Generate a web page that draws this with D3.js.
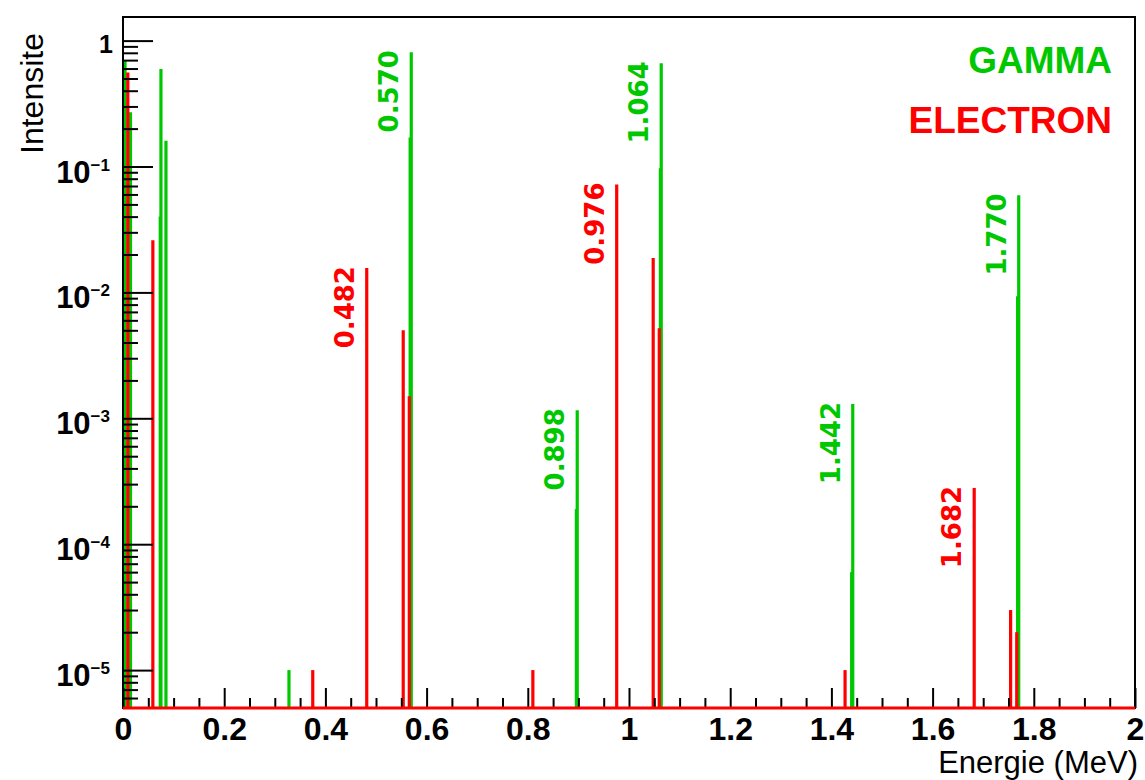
<!DOCTYPE html>
<html>
<head>
<meta charset="utf-8">
<script src="https://cdn.jsdelivr.net/npm/d3@7"></script>
<style>
  body { margin: 0; background: #fff; }
  svg { display: block; }
  .tick-label { font-family: 'Liberation Sans', Arial, sans-serif; font-weight: bold; }
  .title { font-family: 'Liberation Sans', Arial, sans-serif; }
  .peak-label { font-family: 'DejaVu Sans', sans-serif; font-weight: bold; }
</style>
</head>
<body>
<div id="chart"></div>
<script>
// Gamma lines (energy in MeV, intensity)
const gammaEnergy = [0.004, 0.0148, 0.0736, 0.0750, 0.0849, 0.328, 0.5675, 0.5697, 0.896, 0.8977, 1.0620, 1.0637, 1.440, 1.4422, 1.768, 1.7702];
const gammaIntensity = [0.70, 0.27, 0.04, 0.595, 0.16, 1.0e-5, 0.17, 0.81, 1.9e-4, 1.16e-3, 0.097, 0.66, 6e-5, 1.3e-3, 9.3e-3, 0.059];

// Conversion / Auger electrons
const electronEnergy = [0.0095, 0.059, 0.375, 0.4817, 0.5538, 0.5658, 0.810, 0.9757, 1.0478, 1.0598, 1.427, 1.6822, 1.7542, 1.7663];
const electronIntensity = [0.557, 0.026, 1.0e-5, 0.0156, 5.0e-3, 1.5e-3, 1.0e-5, 0.072, 0.0188, 5.2e-3, 1.0e-5, 2.8e-4, 3.0e-5, 2.0e-5];

// annotated peaks
const gammaLabels = ['0.570', '0.898', '1.064', '1.442', '1.770'];
const electronLabels = ['0.482', '0.976', '1.682'];

const xMajorTicks = [0, 0.2, 0.4, 0.6, 0.8, 1, 1.2, 1.4, 1.6, 1.8, 2];
const yDecades = [-5, -4, -3, -2, -1, 0];

const legendNames = ['GAMMA', 'ELECTRON'];

const green = '#00c800';
const red = '#ff0000';

const width = 1145;
const height = 780;
const frame = {left: 123, right: 1135, top: 17, bottom: 708};
const yMin = 5e-6, yMax = 1.54;

const svg = d3.select('#chart').append('svg')
  .attr('width', width)
  .attr('height', height);

const x = d3.scaleLinear().domain([0, 2]).range([frame.left, frame.right]);
const y = d3.scaleLog().domain([yMin, yMax]).range([frame.bottom, frame.top]);

function drawSpikes (energies, values, color) {
  svg.append('g')
    .selectAll('line')
    .data(energies.map((e, i) => ({e: e, v: values[i]})))
    .enter()
    .append('line')
    .attr('x1', d => x(d.e))
    .attr('x2', d => x(d.e))
    .attr('y1', y(yMin))
    .attr('y2', d => y(d.v))
    .attr('stroke', color)
    .attr('stroke-width', 3.2);
}

drawSpikes(gammaEnergy, gammaIntensity, green);
drawSpikes(electronEnergy, electronIntensity, red);

// frame
svg.append('rect')
  .attr('x', frame.left).attr('y', frame.top)
  .attr('width', frame.right - frame.left).attr('height', frame.bottom - frame.top)
  .attr('fill', 'none').attr('stroke', '#000').attr('stroke-width', 2);

// x axis: major + minor ticks pointing inside
let xMinor = d3.range(0, 2.0001, 0.05).filter(v => Math.abs(v * 5 - Math.round(v * 5)) > 1e-6);
let xAxisMajor = d3.axisBottom(x).tickValues(xMajorTicks).tickSize(-20).tickPadding(9)
  .tickFormat(d => String(+d.toFixed(1)));
let xAxisMinor = d3.axisBottom(x).tickValues(xMinor).tickSize(-10).tickFormat('');

let gx = svg.append('g').attr('transform', 'translate(0,' + frame.bottom + ')').call(xAxisMajor);
svg.append('g').attr('transform', 'translate(0,' + frame.bottom + ')').call(xAxisMinor)
  .select('.domain').remove();
gx.select('.domain').remove();
gx.selectAll('text').attr('class', 'tick-label').attr('font-size', 32).attr('fill', '#000');

// y axis: decades + 2..9 minors
let yMajor = yDecades.map(k => Math.pow(10, k));
let yMinor = [];
d3.range(-6, 1).forEach(k => {
  d3.range(2, 10).forEach(m => {
    let v = m * Math.pow(10, k);
    if (v >= yMin && v <= yMax) yMinor.push(v);
  });
});
let gy = svg.append('g').attr('transform', 'translate(' + frame.left + ',0)')
  .call(d3.axisLeft(y).tickValues(yMajor).tickSize(-30).tickFormat(''));
let gy2 = svg.append('g').attr('transform', 'translate(' + frame.left + ',0)')
  .call(d3.axisLeft(y).tickValues(yMinor).tickSize(-15).tickFormat(''));
gy.select('.domain').remove();
gy2.select('.domain').remove();
svg.selectAll('.tick line').attr('stroke-width', 2);

// y tick labels, 10^k with superscript
yDecades.forEach(k => {
  let yy = y(Math.pow(10, k));
  if (k === 0) {
    svg.append('text').attr('class', 'tick-label')
      .attr('x', 113).attr('y', yy + 12)
      .attr('text-anchor', 'end').attr('font-size', 25)
      .text('1');
    return;
  }
  let t = svg.append('text').attr('class', 'tick-label')
    .attr('x', 110).attr('y', yy + 16)
    .attr('text-anchor', 'end');
  t.append('tspan').attr('font-size', 31).text('10');
  t.append('tspan').attr('font-size', 17).attr('dy', -12).text('\u2212' + (-k));
});

// red histogram baseline over the bottom axis
svg.append('line')
  .attr('x1', x(0)).attr('x2', x(2))
  .attr('y1', y(yMin)).attr('y2', y(yMin))
  .attr('stroke', red).attr('stroke-width', 3);

// peak labels
function drawLabels (labels, energies, values, color) {
  labels.forEach(lab => {
    let e = +lab;
    let i = d3.minIndex(energies, d => Math.abs(d - e));
    let px = x(energies[i]) - 13;
    let py = y(values[i]) - 2;
    svg.append('text')
      .attr('class', 'peak-label')
      .attr('transform', 'translate(' + px + ',' + py + ') rotate(-90)')
      .attr('text-anchor', 'end')
      .attr('font-size', 26)
      .attr('fill', color)
      .text(lab);
  });
}
drawLabels(gammaLabels, gammaEnergy, gammaIntensity, green);
drawLabels(electronLabels, electronEnergy, electronIntensity, red);

// axis titles
svg.append('text').attr('class', 'title')
  .attr('transform', 'translate(43,33) rotate(-90)')
  .attr('text-anchor', 'end').attr('font-size', 32)
  .text('Intensite');
svg.append('text').attr('class', 'title')
  .attr('x', 1138).attr('y', 773)
  .attr('text-anchor', 'end').attr('font-size', 31)
  .text('Energie (MeV)');

// legend
svg.append('g').selectAll('text')
  .data(legendNames)
  .enter()
  .append('text')
  .attr('class', 'tick-label')
  .attr('x', 1112)
  .attr('y', (d, i) => 73 + i * 60)
  .attr('text-anchor', 'end')
  .attr('font-size', 37)
  .attr('fill', (d, i) => i === 0 ? green : red)
  .text(d => d);
</script>
</body>
</html>
